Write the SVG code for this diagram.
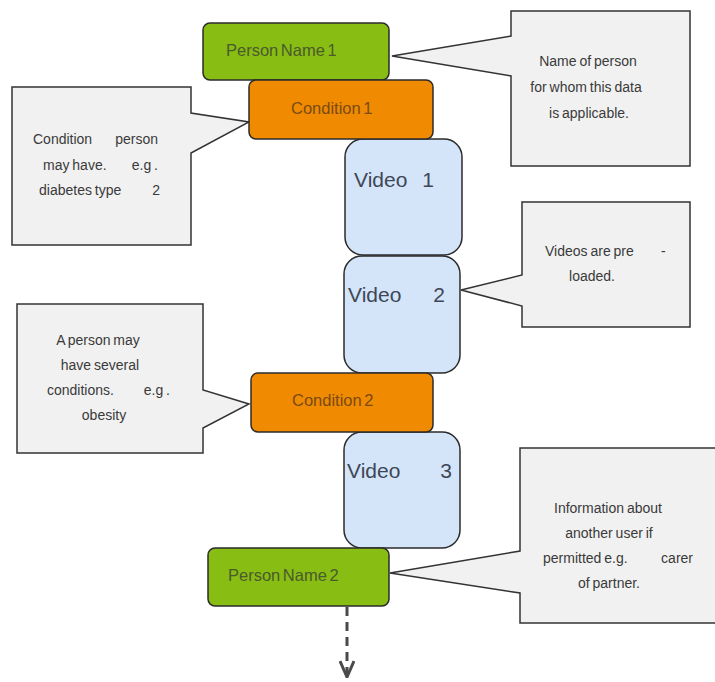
<svg xmlns="http://www.w3.org/2000/svg" width="715" height="682" viewBox="0 0 715 682">
<defs>
<style>
.callout{fill:#f1f1f1;stroke:#333;stroke-width:1.5;stroke-linejoin:miter}
.person{fill:#88bd14;stroke:#2b2b2b;stroke-width:1.5}
.cond{fill:#f08a00;stroke:#2b2b2b;stroke-width:1.5}
.video{fill:#d4e5fa;stroke:#2b2b2b;stroke-width:1.5}
.ct{font-family:"Liberation Sans",Arial,sans-serif;font-size:14px;fill:#3a3a3a;word-spacing:-1px}
.pt{font-family:"Liberation Sans",Arial,sans-serif;font-size:16.5px;fill:#4a5a2c;word-spacing:-2px}
.cdt{font-family:"Liberation Sans",Arial,sans-serif;font-size:16.5px;fill:#7a4a14;word-spacing:-2px}
.vt{font-family:"Liberation Sans",Arial,sans-serif;font-size:21px;fill:#3e4756}
.mid{text-anchor:middle}
.end{text-anchor:end}
</style>
<marker id="vhead" viewBox="0 0 18 16" refX="17" refY="8" markerWidth="18" markerHeight="16" markerUnits="userSpaceOnUse" orient="auto">
<path d="M1,1 L17,8 L1,15" fill="none" stroke="#4a4a4a" stroke-width="3"/>
</marker>
</defs>

<g id="callout-person1">
<path class="callout" d="M511,11 H690 V166 H511 V76 L392,56 L511,36 Z"/>
<text class="ct mid" x="588" y="66">Name of person</text>
<text class="ct mid" x="586" y="92">for whom this data</text>
<text class="ct mid" x="589" y="118">is applicable.</text>
</g>
<g id="callout-condition1">
<path class="callout" d="M12,87 H191 V113 L249,122 L191,153 V245 H12 Z"/>
<text class="ct" x="33" y="144">Condition</text>
<text class="ct end" x="158" y="144">person</text>
<text class="ct" x="43" y="170">may have.</text>
<text class="ct end" x="158" y="170">e.g .</text>
<text class="ct" x="39" y="195">diabetes type</text>
<text class="ct end" x="160" y="195">2</text>
</g>
<g id="callout-videos">
<path class="callout" d="M522,202 H690 V327 H522 V306 L461,290 L522,275 Z"/>
<text class="ct" x="545" y="256">Videos are pre</text>
<text class="ct" x="661" y="256">-</text>
<text class="ct mid" x="592" y="281">loaded.</text>
</g>
<g id="callout-condition2">
<path class="callout" d="M17,304 H203 V390 L249,404 L203,428 V453 H17 Z"/>
<text class="ct mid" x="98" y="345">A person may</text>
<text class="ct mid" x="100" y="370">have several</text>
<text class="ct" x="47" y="395">conditions.</text>
<text class="ct end" x="170" y="395">e.g .</text>
<text class="ct mid" x="104" y="420">obesity</text>
</g>
<g id="callout-person2">
<path class="callout" d="M520,448 H718 V623 H520 V593 L390,573 L520,551 Z"/>
<text class="ct mid" x="608" y="513">Information about</text>
<text class="ct mid" x="609" y="538">another user if</text>
<text class="ct" x="543" y="563">permitted e.g.</text>
<text class="ct end" x="693" y="563">carer</text>
<text class="ct mid" x="609" y="588">of partner.</text>
</g>

<g id="video1">
<rect class="video" x="345" y="139" width="117" height="116" rx="18"/>
<text class="vt" x="354" y="187">Video</text>
<text class="vt end" x="434" y="187">1</text>
</g>
<g id="video2">
<rect class="video" x="344" y="256" width="116" height="117" rx="18"/>
<text class="vt" x="348" y="302">Video</text>
<text class="vt end" x="445" y="302">2</text>
</g>
<g id="video3">
<rect class="video" x="344" y="432" width="116" height="116" rx="18"/>
<text class="vt" x="347" y="478">Video</text>
<text class="vt end" x="452" y="478">3</text>
</g>
<g id="person1">
<rect class="person" x="203" y="23" width="186" height="57" rx="7"/>
<text class="pt" x="226" y="56">Person Name 1</text>
</g>
<g id="condition1">
<rect class="cond" x="249" y="80" width="184" height="59" rx="7"/>
<text class="cdt" x="291" y="114">Condition 1</text>
</g>
<g id="condition2">
<rect class="cond" x="251" y="373" width="182" height="59" rx="7"/>
<text class="cdt" x="292" y="406">Condition 2</text>
</g>
<g id="person2">
<rect class="person" x="208" y="548" width="181" height="58" rx="7"/>
<text class="pt" x="228" y="581">Person Name 2</text>
</g>

<g id="connectors">
<path d="M347,607 V677" fill="none" stroke="#4a4a4a" stroke-width="3" stroke-dasharray="9,6" marker-end="url(#vhead)"/>
</g>
</svg>
